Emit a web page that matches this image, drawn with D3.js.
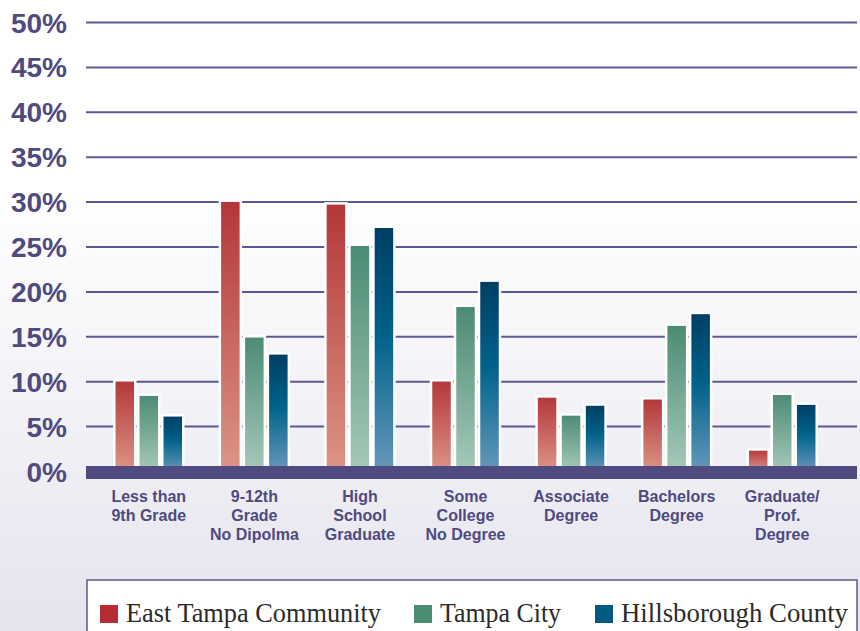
<!DOCTYPE html>
<html>
<head>
<meta charset="utf-8">
<script src="https://cdn.jsdelivr.net/npm/d3@7"></script>
<style>
  body { margin: 0; padding: 0; overflow: hidden; }
  svg { display: block; }
</style>
</head>
<body>
<script>
// data
var categories = ["Less than\n9th Grade", "9-12th\nGrade\nNo Dipolma", "High\nSchool\nGraduate",
    "Some\nCollege\nNo Degree", "Associate\nDegree", "Bachelors\nDegree", "Graduate/\nProf.\nDegree"];
var series = ["East Tampa Community", "Tampa City", "Hillsborough County"];
var eastTampa = [10.1, 30.1, 29.8, 10.1, 8.3, 8.1, 2.4];
var tampaCity = [8.5, 15.0, 25.2, 18.4, 6.3, 16.3, 8.6];
var hillsborough = [6.2, 13.1, 27.2, 21.2, 7.4, 17.6, 7.5];
var tickValues = [0, 5, 10, 15, 20, 25, 30, 35, 40, 45, 50];

var W = 860, H = 631;
var purple = "#4f4a80";

var svg = d3.select("body").append("svg")
    .attr("width", W)
    .attr("height", H);

var defs = svg.append("defs");

// background fade
var bg = defs.append("linearGradient").attr("id", "bg")
    .attr("x1", 0).attr("y1", 0).attr("x2", 0).attr("y2", 1);
bg.append("stop").attr("offset", "0%").attr("stop-color", "#ffffff");
bg.append("stop").attr("offset", "30%").attr("stop-color", "#ffffff");
bg.append("stop").attr("offset", "100%").attr("stop-color", "#e5e4ee");

svg.append("rect").attr("width", W).attr("height", H).attr("fill", "url(#bg)");

// bar gradients, one per series
var grads = [
    [["0%", "#b3363a"], ["100%", "#dc9586"]],
    [["0%", "#4b8b73"], ["100%", "#a6c9ba"]],
    [["0%", "#003e63"], ["45%", "#00628a"], ["100%", "#6698ba"]]
];
grads.forEach(function (g, i) {
    var lg = defs.append("linearGradient").attr("id", "g" + i)
        .attr("x1", 0).attr("y1", 0).attr("x2", 0).attr("y2", 1);
    g.forEach(function (s) {
        lg.append("stop").attr("offset", s[0]).attr("stop-color", s[1]);
    });
});

var legendColors = ["#b72b34", "#4b8d72", "#005b83"];

var left = 86, right = 857;
var y = d3.scaleLinear().domain([0, 50]).range([471, 22]);

var x0 = d3.scaleBand().domain(categories).range([96, 835]).padding(0);
var x1 = d3.scaleBand().domain([0, 1, 2]).range([0, 69]).paddingInner(0.125).paddingOuter(0);

// gridlines + tick labels
var yAxis = svg.append("g")
    .attr("transform", "translate(" + left + ",0)")
    .call(d3.axisLeft(y)
        .tickValues(tickValues)
        .tickSize(-(right - left))
        .tickPadding(19)
        .tickFormat(function (d) { return d + "%"; }));

yAxis.select(".domain").remove();
yAxis.selectAll(".tick line")
    .attr("stroke", "#5b5896")
    .attr("stroke-width", 2);
yAxis.selectAll(".tick text")
    .attr("fill", purple)
    .attr("font-family", "'Liberation Sans', Arial, sans-serif")
    .attr("font-weight", "bold")
    .attr("font-size", "28px")
    .attr("dy", "0.36em");

// bars
var table = categories.map(function (c, i) {
    return { cat: c, vals: [eastTampa[i], tampaCity[i], hillsborough[i]] };
});

var groups = svg.selectAll(".grp")
    .data(table)
    .enter().append("g")
    .attr("class", "grp")
    .attr("transform", function (d) {
        return "translate(" + (x0(d.cat) + (x0.bandwidth() - 69) / 2) + ",0)";
    });

groups.selectAll("rect")
    .data(function (d) { return d.vals; })
    .enter().append("rect")
    .attr("x", function (d, i) { return x1(i); })
    .attr("width", x1.bandwidth())
    .attr("y", function (d) { return y(d); })
    .attr("height", function (d) { return y(0) - y(d); })
    .attr("fill", function (d, i) { return "url(#g" + i + ")"; })
    .attr("stroke", "#ffffff")
    .attr("stroke-width", 2.5);

// baseline band
svg.append("rect")
    .attr("x", left)
    .attr("y", y(0) - 5)
    .attr("width", right - left)
    .attr("height", 13)
    .attr("fill", purple);

// category labels
groups.append("text")
    .attr("text-anchor", "middle")
    .attr("x", 34.5)
    .attr("fill", purple)
    .attr("font-family", "'Liberation Sans', Arial, sans-serif")
    .attr("font-weight", "bold")
    .attr("font-size", "16px")
    .selectAll("tspan")
    .data(function (d) { return d.cat.split("\n"); })
    .enter().append("tspan")
    .attr("x", 34.5)
    .attr("y", function (d, i) { return 502 + i * 19; })
    .text(function (d) { return d; });

// legend
svg.append("rect")
    .attr("x", 87)
    .attr("y", 580)
    .attr("width", 770)
    .attr("height", 70)
    .attr("fill", "#ffffff")
    .attr("stroke", "#5b5896")
    .attr("stroke-width", 1.5);

var legendX = [100, 414, 595];
var legendTextW = [255, 121, 227];

var leg = svg.selectAll(".leg")
    .data(series)
    .enter().append("g")
    .attr("class", "leg")
    .attr("transform", function (d, i) { return "translate(" + legendX[i] + ",0)"; });

leg.append("rect")
    .attr("x", 0)
    .attr("y", 605)
    .attr("width", 18)
    .attr("height", 18)
    .attr("fill", function (d, i) { return legendColors[i]; });

leg.append("text")
    .attr("x", 26)
    .attr("y", 622)
    .attr("fill", "#2b2b2b")
    .attr("font-family", "'Liberation Serif', 'Times New Roman', serif")
    .attr("font-size", "27px")
    .attr("textLength", function (d, i) { return legendTextW[i]; })
    .attr("lengthAdjust", "spacingAndGlyphs")
    .text(function (d) { return d; });
</script>
</body>
</html>
